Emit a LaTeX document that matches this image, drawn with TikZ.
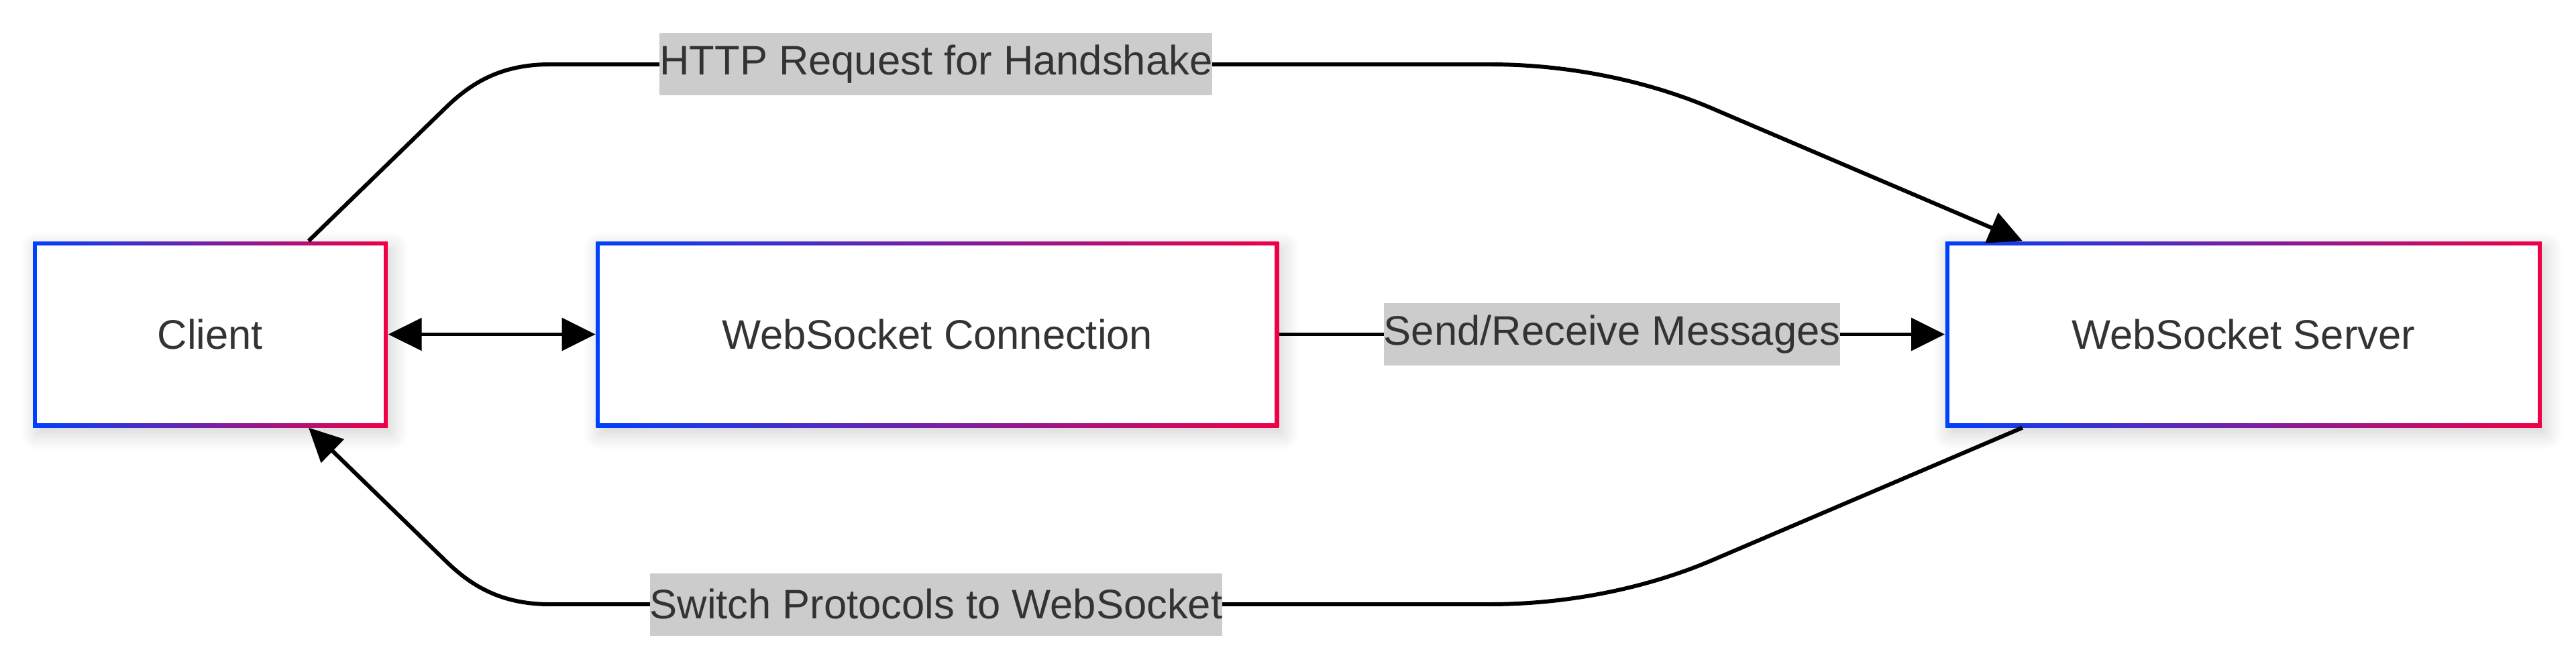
\documentclass[tikz,border=0pt]{standalone}
\usepackage{fontspec}
\setmainfont{Liberation Sans}
\usepackage{tikz}
\usetikzlibrary{positioning,arrows.meta,shadows.blur}
\usepackage{xcolor}
\definecolor{wsblue}{RGB}{0,64,255}
\definecolor{wsred}{RGB}{240,0,70}
\definecolor{txtgray}{RGB}{51,51,51}
\definecolor{lblgray}{RGB}{204,204,204}

\begin{document}
\begin{tikzpicture}[every node/.style={font=\fontsize{17.5}{21}\selectfont, text=txtgray},
box/.style={rectangle, minimum width=5.29cm, minimum height=2.77cm, inner sep=0pt,
  left color=wsblue, right color=wsred,
  blur shadow={shadow blur steps=8, shadow xshift=0.06cm, shadow yshift=-0.1cm, shadow opacity=18, shadow blur radius=0.25cm},
  path picture={\fill[white] ([shift={(0.06,0.06)}]path picture bounding box.south west) rectangle ([shift={(-0.06,-0.06)}]path picture bounding box.north east);}},
lbl/.style={fill=lblgray, inner xsep=0pt, inner ysep=0pt, minimum height=0.93cm},
link/.style={draw=black, line width=1.7pt, -{Triangle[length=0.5cm, width=0.48cm]}}]
\useasboundingbox (0,0) rectangle (38.4,9.98);
\node[box] (client) at (3.135,4.995) {Client};
\node[box, minimum width=10.18cm, right=3.09cm of client] (conn) {WebSocket Connection};
\node[box, minimum width=8.89cm, right=9.92cm of conn] (server) {WebSocket Server};
\draw[link] ([xshift=1.465cm]client.north) -- (6.65,8.38) .. controls (7.05,8.77) and (7.5,9.02) .. (8.2,9.02)
  -- node[lbl, pos=0.411] (req) {HTTP Request for Handshake} (22.2,9.02)
  .. controls (23.4,9.02) and (24.6,8.77) .. (25.6,8.33) -- ([xshift=-3.295cm]server.north);
\draw[link] ([xshift=-3.295cm]server.south) -- (25.6,1.66) .. controls (24.6,1.22) and (23.4,0.97) .. (22.2,0.97)
  -- node[lbl, pos=0.589] (sw) {Switch Protocols to WebSocket} (8.2,0.97)
  .. controls (7.5,0.97) and (7.05,1.22) .. (6.65,1.61) -- ([xshift=1.465cm]client.south);
\draw[link, {Triangle[length=0.5cm, width=0.48cm]}-{Triangle[length=0.5cm, width=0.48cm]}] (client.east) -- (conn.west);
\draw[link] (conn.east) -- node[lbl] (msg) {Send/Receive Messages} (server.west);
\end{tikzpicture}
\end{document}
